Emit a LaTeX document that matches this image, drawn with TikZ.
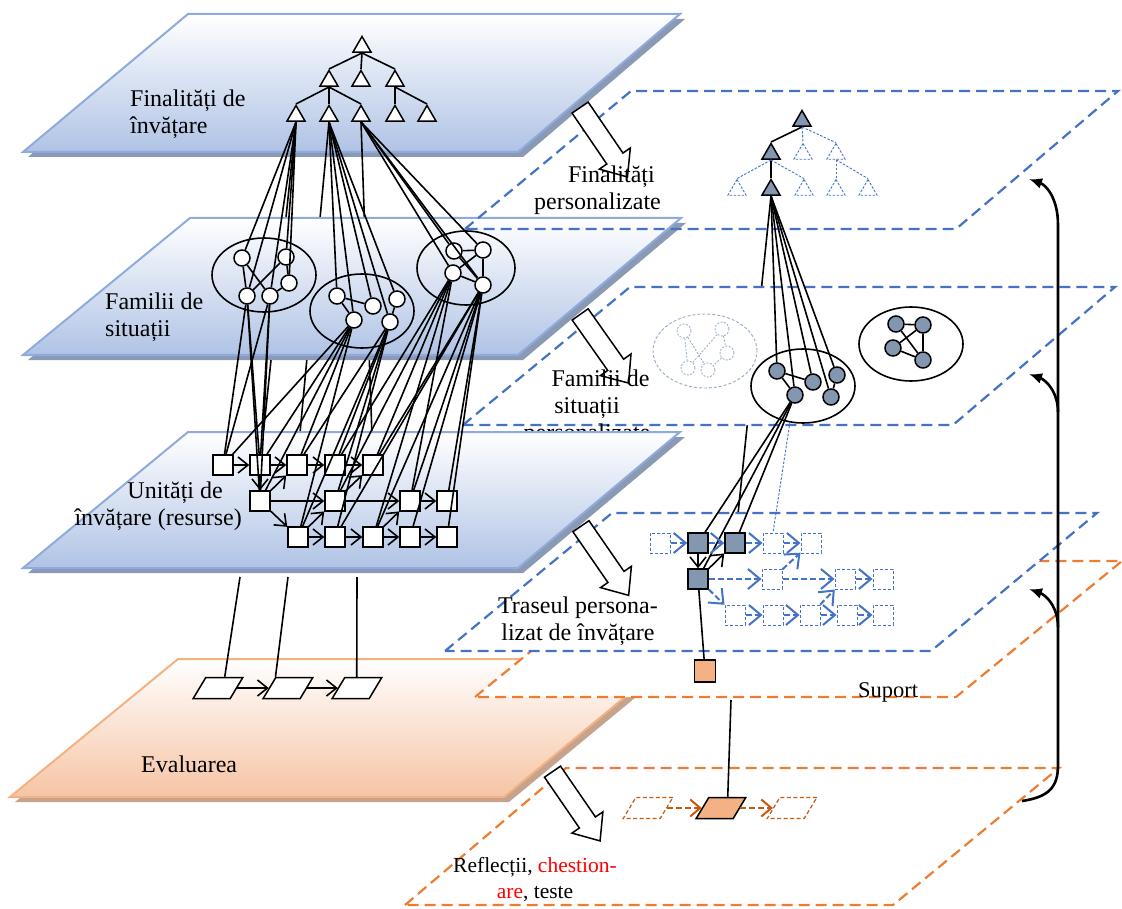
\documentclass[tikz,border=0pt]{standalone}
\usepackage{fontspec}
\setmainfont{Liberation Serif}
\usetikzlibrary{shapes.geometric,shapes.arrows,arrows.meta,calc}

\definecolor{planeEdge}{RGB}{143,170,220}
\definecolor{planeFill}{RGB}{176,195,229}
\definecolor{planeShadow}{RGB}{138,154,180}
\definecolor{evalEdge}{RGB}{244,177,131}
\definecolor{evalFill}{RGB}{246,196,164}
\definecolor{evalShadow}{RGB}{197,163,140}
\definecolor{dashBlue}{RGB}{68,114,196}
\definecolor{dashOrange}{RGB}{237,125,49}
\definecolor{darkOrange}{RGB}{197,90,17}
\definecolor{nodeGray}{RGB}{132,151,176}
\definecolor{ghostLine}{RGB}{150,170,200}
\definecolor{salmon}{RGB}{244,177,131}

\pgfdeclarelayer{planesback}
\pgfdeclarelayer{hiddenlinks}
\pgfdeclarelayer{planesfront}
\pgfsetlayers{planesback,hiddenlinks,planesfront,main}

\tikzset{
  lbl/.style={font=\fontsize{24}{27}\selectfont, inner sep=0pt},
  smalllbl/.style={font=\fontsize{21.5}{26}\selectfont, inner sep=0pt},
  tri/.style={regular polygon, regular polygon sides=3, draw, fill=white,
              line width=1.5pt, minimum size=21pt, inner sep=0pt},
  gtri/.style={tri, fill=nodeGray},
  dtri/.style={regular polygon, regular polygon sides=3, draw=dashBlue,
               dash pattern=on 2.5pt off 1.5pt, line width=0.9pt,
               minimum size=21pt, inner sep=0pt},
  dot/.style={circle, draw, fill=white, line width=1.5pt, minimum size=16pt, inner sep=0pt},
  gdot/.style={dot, fill=nodeGray},
  ghostdot/.style={circle, draw=ghostLine, dash pattern=on 2pt off 1.5pt,
                   line width=0.8pt, minimum size=14pt, inner sep=0pt},
  grp/.style={ellipse, draw, line width=1.6pt, minimum width=104pt,
              minimum height=74pt, inner sep=0pt},
  ghostgrp/.style={ellipse, draw=ghostLine, dash pattern=on 3pt off 2pt,
                   line width=0.9pt, minimum width=104pt, minimum height=74pt, inner sep=0pt},
  box/.style={rectangle, draw, fill=white, line width=1.5pt, minimum size=20pt, inner sep=0pt},
  gbox/.style={box, fill=nodeGray},
  dbox/.style={rectangle, draw=dashBlue, dash pattern=on 3pt off 2pt,
               line width=1pt, minimum size=20pt, inner sep=0pt},
  para/.style={rectangle, draw, fill=white, line width=1.5pt, minimum width=37pt,
               minimum height=21pt, inner sep=0pt, xslant=0.6},
  opara/.style={para, fill=salmon},
  dpara/.style={rectangle, draw=darkOrange, dash pattern=on 4pt off 2.5pt,
                line width=1.2pt, minimum width=37pt, minimum height=21pt,
                inner sep=0pt, xslant=0.6},
  link/.style={line width=1.6pt},
  flow/.style={line width=1.6pt, -{Straight Barb[length=10pt,width=16pt]}},
  bflow/.style={draw=dashBlue, line width=2pt, dash pattern=on 6pt off 3pt,
                -{Straight Barb[length=12pt,width=20pt]}},
  oflow/.style={draw=darkOrange, line width=2pt, dash pattern=on 6pt off 3pt,
                -{Straight Barb[length=10pt,width=17pt]}},
  treedash/.style={draw=dashBlue, dash pattern=on 2.5pt off 1.5pt, line width=0.9pt},
  ghostlink/.style={draw=ghostLine, dash pattern=on 2pt off 1.5pt, line width=0.8pt},
  bigarrow/.style={single arrow, draw, fill=white, line width=1.5pt,
                   minimum height=84pt, inner xsep=0pt, inner ysep=9pt,
                   single arrow head extend=9pt, single arrow tip angle=80},
  blueDash/.style={draw=dashBlue, line width=2.2pt, dash pattern=on 11pt off 6pt},
  orangeDash/.style={draw=dashOrange, line width=2.2pt, dash pattern=on 11pt off 6pt},
  backflow/.style={line width=2.6pt, -{Latex[length=13pt,width=11pt]}},
  blueplane/.style={top color=white, bottom color=planeFill, draw=planeEdge, line width=2pt},
  orangeplane/.style={top color=white, bottom color=evalFill, draw=evalEdge, line width=2pt},
}

\begin{document}
\begin{tikzpicture}[x=1pt,y=-1pt]
\useasboundingbox (0,0) rectangle (1122,909);

% ---------------- planes ----------------
\begin{pgfonlayer}{planesback}
  % learning goals
  \fill[planeShadow, shift={(5,5)}] (23,152) -- (188,14) -- (680,14) -- (518,152) -- cycle;
  \shade[blueplane] (23,152) -- (188,14) -- (680,14) -- (518,152) -- cycle;
\end{pgfonlayer}

\begin{pgfonlayer}{planesfront}
  % families of situations
  \fill[planeShadow, shift={(5,5)}] (23,355) -- (190,218) -- (681,218) -- (518,355) -- cycle;
  \shade[blueplane] (23,355) -- (190,218) -- (681,218) -- (518,355) -- cycle;
  % personalised goals (outline only)
  \draw[blueDash] (465,229) -- (631,91) -- (1118,91) -- (956,229) -- cycle;
  % personalised families
  \filldraw[fill=white, blueDash] (463,425) -- (630,287) -- (1115,287) -- (953,425) -- cycle;
  % evaluation
  \fill[evalShadow, shift={(5,5)}] (10,797) -- (178,659) -- (671,659) -- (504,797) -- cycle;
  \shade[orangeplane] (10,797) -- (178,659) -- (671,659) -- (504,797) -- cycle;
  % reflections, questionnaires, tests
  \draw[orangeDash] (405,905) -- (566,768) -- (1059,768) -- (893,905) -- cycle;
  % support
  \filldraw[fill=white, orangeDash] (475,697) -- (641,561) -- (1122,561) -- (956,697) -- cycle;
  % personalised learning path
  \filldraw[fill=white, blueDash] (445,651) -- (612,513) -- (1097,513) -- (931,651) -- cycle;
  % projection arrows over the upper planes
  \node[bigarrow, rotate=-55.7] (ba1) at (600.5,137.5) {};
  \node[bigarrow, rotate=-54.8] (ba2) at (601,344) {};
  \node[lbl, align=center, anchor=base] (lfam2) at (587,440)
    {\hspace*{27pt}Familii de\\situații\\personalizate};
  % learning units (resources)
  \fill[planeShadow, shift={(5,5)}] (23,568) -- (188,432) -- (680,432) -- (518,568) -- cycle;
  \shade[blueplane] (23,568) -- (188,432) -- (680,432) -- (518,568) -- cycle;
\end{pgfonlayer}

\node[bigarrow, rotate=-55.4] (ba3) at (601.5,556) {};
\node[bigarrow, rotate=-55.5] (ba4) at (573,801.5) {};

% ---------------- labels ----------------
\node[lbl, align=left, anchor=base west] (lfin) at (130,134) {Finalități de\\învățare};
\node[lbl, align=left, anchor=base west] (lfam) at (105,337) {Familii de\\situații};
\node[lbl, align=right, anchor=base east] (luni) at (242,525)
  {Unități de\hspace*{19pt}\\învățare (resurse)};
\node[lbl, anchor=base west] (leva) at (141,772) {Evaluarea};
\node[lbl, align=right, anchor=base east] (lfp) at (661,210)
  {Finalități\hspace*{6pt}\\personalizate};
\node[lbl, align=center, anchor=base] (ltr) at (578,640) {Traseul persona-\\lizat de învățare};
\node[lbl, font=\fontsize{22.5}{27}\selectfont, anchor=base] (lsup) at (888,697) {Suport};
\node[smalllbl, align=center, anchor=base] (lref) at (535,898)
  {Reflecții, {\color{red}chestion-}\\{\color{red}are}, teste};

% ---------------- goal tree ----------------
\node[tri] (t0) at (362,47) {};
\node[tri] (t1) at (329,81) {};
\node[tri] (t2) at (361,81) {};
\node[tri] (t3) at (395,81) {};
\node[tri] (t4) at (296,116) {};
\node[tri] (t5) at (329,116) {};
\node[tri] (t6) at (361,116) {};
\node[tri] (t7) at (395,116) {};
\node[tri] (t8) at (427,116) {};
\foreach \c in {t1,t2,t3} \draw[link] (t0.south) -- (\c.north);
\foreach \c in {t4,t5,t6} \draw[link] (t1.south) -- (\c.north);
\foreach \c in {t7,t8} \draw[link] (t3.south) -- (\c.north);

% ---------------- families of situations ----------------
\node[grp] (E1) at (264,275) {};
\node[dot] (e1c1) at (242,258) {};
\node[dot] (e1c2) at (286,257) {};
\node[dot] (e1c3) at (289,283) {};
\node[dot] (e1c4) at (247,296) {};
\node[dot] (e1c5) at (270,296) {};
\draw[link] (e1c1) -- (e1c4);
\draw[link] (e1c1) -- (e1c5);
\draw[link] (e1c2) -- (e1c4);
\draw[link] (e1c2) -- (e1c3);
\draw[link] (e1c3) -- (e1c5);

\node[grp] (E2) at (362,311) {};
\node[dot] (e2c1) at (337,296) {};
\node[dot] (e2c2) at (373,306) {};
\node[dot] (e2c3) at (397,299) {};
\node[dot] (e2c4) at (354,320) {};
\node[dot] (e2c5) at (390,322) {};
\draw[link] (e2c1) -- (e2c4);
\draw[link] (e2c1) -- (e2c2);
\draw[link] (e2c3) -- (e2c5);

\node[grp, minimum width=98pt] (E3) at (466,268) {};
\node[dot] (e3c1) at (454,251) {};
\node[dot] (e3c2) at (483,250) {};
\node[dot] (e3c3) at (453,273) {};
\node[dot] (e3c4) at (483,285) {};
\draw[link] (e3c1) -- (e3c2);
\draw[link] (e3c2) -- (e3c4);
\draw[link] (e3c1) -- (e3c4);
\draw[link] (e3c3) -- (e3c2);
\draw[link] (e3c3) -- (e3c4);

% goals to situations
\foreach \c in {e1c1,e1c2,e1c3,e1c4,e1c5} \draw[link] (t4.south) -- (\c);
\foreach \c in {e2c1,e2c2,e2c3,e2c4,e2c5} \draw[link] (t5.south) -- (\c);
\foreach \c in {e3c1,e3c2,e3c3,e3c4} \draw[link] (t6.south) -- (\c);

% ---------------- learning units ----------------
\node[box] (s11) at (223,465) {};
\node[box] (s12) at (260,465) {};
\node[box] (s13) at (297,465) {};
\node[box] (s14) at (335,465) {};
\node[box] (s15) at (373,465) {};
\node[box] (s21) at (260,501) {};
\node[box] (s22) at (335,501) {};
\node[box] (s23) at (410,501) {};
\node[box] (s24) at (447,501) {};
\node[box] (s31) at (298,537) {};
\node[box] (s32) at (335,537) {};
\node[box] (s33) at (373,537) {};
\node[box] (s34) at (410,537) {};
\node[box] (s35) at (447,537) {};

% situations to units
\foreach \s in {s11,s12,s21} {
  \draw[link] (e1c4) -- (\s);
  \draw[link] (e1c5) -- (\s);
}
\foreach \s in {s11,s12,s13,s21,s31} \draw[link] (e2c4) -- (\s);
\foreach \s in {s13,s14,s22,s31,s32} \draw[link] (e2c5) -- (\s);
\foreach \s in {s14,s15,s22,s23,s33} \draw[link] (e3c3) -- (\s);
\foreach \s in {s15,s23,s24,s32,s33,s34,s35} \draw[link] (e3c4) -- (\s);

% goal links that pass behind the planes
\begin{pgfonlayer}{hiddenlinks}
  \draw[link] (t4.south) -- (s12);
  \draw[link] (t5.south) -- (s13);
  \draw[link] (t6.south) -- (s15);
\end{pgfonlayer}

% sequencing of units
\draw[flow] (s11) -- (s12);
\draw[flow] (s12) -- (s13);
\draw[flow] (s13) -- (s14);
\draw[flow] (s14) -- (s15);
\draw[flow] (s21) -- (s22);
\draw[flow] (s22) -- (s23);
\draw[flow] (s23) -- (s24);
\draw[flow] (s31) -- (s32);
\draw[flow] (s32) -- (s33);
\draw[flow] (s33) -- (s34);
\draw[flow] (s34) -- (s35);
\draw[flow] (s12) -- (s21);
\draw[flow] (s21) -- (s13);
\draw[flow] (s21) -- (s31);
\draw[flow] (s31) -- (s22);
\draw[flow] (s22) -- (s15);
\draw[flow] (s33) -- (s23);

% ---------------- evaluation items ----------------
\node[para] (pe1) at (218,688) {};
\node[para] (pe2) at (288,688) {};
\node[para] (pe3) at (357,688) {};
\draw[flow] (pe1) -- (pe2);
\draw[flow] (pe2) -- (pe3);
\coordinate (ev1) at (240,577);
\coordinate (ev2) at (288,577);
\coordinate (ev3) at (357,577);
\draw[link] (ev1) -- (pe1.north);
\draw[link] (ev2) -- (pe2.north west);
\draw[link] (ev3) -- ([xshift=-7pt]pe3.north);

% ---------------- personalised goals ----------------
\node[gtri] (g0) at (802,121) {};
\node[gtri] (g1) at (771,154) {};
\node[gtri] (g2) at (771,190) {};
\node[dtri] (d1) at (803,154) {};
\node[dtri] (d2) at (836,154) {};
\node[dtri] (d3) at (737,190) {};
\node[dtri] (d4) at (804,190) {};
\node[dtri] (d5) at (836,190) {};
\node[dtri] (d6) at (868,190) {};
\draw[link] (g0.south) -- (g1.north);
\draw[link] (g1.south) -- (g2.north);
\draw[treedash] (g0.south) -- (d1.north);
\draw[treedash] (g0.south) -- (d2.north);
\draw[treedash] (g1.south) -- (d3.north);
\draw[treedash] (g1.south) -- (d4.north);
\draw[treedash] (d2.south) -- (d5.north);
\draw[treedash] (d2.south) -- (d6.north);

% ---------------- personalised families ----------------
\node[ghostgrp] (ghost) at (705,351) {};
\node[ghostdot] (gc1) at (684,331) {};
\node[ghostdot] (gc2) at (722,329) {};
\node[ghostdot] (gc3) at (727,353) {};
\node[ghostdot] (gc4) at (688,368) {};
\node[ghostdot] (gc5) at (708,370) {};
\draw[ghostlink] (gc1) -- (gc4);
\draw[ghostlink] (gc1) -- (gc5);
\draw[ghostlink] (gc2) -- (gc4);
\draw[ghostlink] (gc2) -- (gc3);
\draw[ghostlink] (gc3) -- (gc5);

\node[grp] (bell) at (803,386) {};
\node[gdot] (bc1) at (777,371) {};
\node[gdot] (bc2) at (813,382) {};
\node[gdot] (bc3) at (837,375) {};
\node[gdot] (bc4) at (795,395) {};
\node[gdot] (bc5) at (831,397) {};
\draw[link] (bc1) -- (bc2);
\draw[link] (bc1) -- (bc4);
\draw[link] (bc3) -- (bc5);

\node[grp] (bell2) at (911,344) {};
\node[gdot] (bd1) at (896,324) {};
\node[gdot] (bd2) at (923,325) {};
\node[gdot] (bd3) at (893,348) {};
\node[gdot] (bd4) at (923,360) {};
\draw[link] (bd1) -- (bd2);
\draw[link] (bd2) -- (bd4);
\draw[link] (bd3) -- (bd4);
\draw[link] (bd1) -- (bd4);
\draw[link] (bd3) -- (bd2);

\foreach \c in {bc1,bc4,bc2,bc3,bc5} \draw[link] (g2.south) -- (\c);

% ---------------- personalised path ----------------
\node[dbox] (q1) at (660,543) {};
\node[gbox] (sqa) at (698,543) {};
\node[gbox] (sqb) at (735,543) {};
\node[dbox] (q4) at (773,543) {};
\node[dbox] (q5) at (811,543) {};
\node[gbox] (sqc) at (698,579) {};
\node[dbox] (q6) at (772,579) {};
\node[dbox] (q7) at (845,579) {};
\node[dbox] (q8) at (883,579) {};
\node[dbox] (q9) at (735,615) {};
\node[dbox] (q10) at (773,615) {};
\node[dbox] (q11) at (810,615) {};
\node[dbox] (q12) at (847,615) {};
\node[dbox] (q13) at (883,615) {};

\begin{pgfonlayer}{hiddenlinks}
  \draw[link] (g2.south) -- (sqb);
\end{pgfonlayer}

\foreach \s in {sqa,sqb,sqc} \draw[link] (bc4) -- (\s);
\coordinate (bellfoot) at (790,422);
\draw[treedash] (bellfoot) -- (q4.north);

\draw[bflow] (q1) -- (sqa);
\draw[bflow] (sqa) -- (sqb);
\draw[bflow] (sqb) -- (q4);
\draw[bflow] (q4) -- (q5);
\draw[bflow] (sqc) -- (q6);
\draw[bflow] (q6) -- (q7);
\draw[bflow] (q7) -- (q8);
\draw[bflow] (q9) -- (q10);
\draw[bflow] (q10) -- (q11);
\draw[bflow] (q11) -- (q12);
\draw[bflow] (q12) -- (q13);
\draw[bflow] (sqc) -- (q9);
\draw[bflow] (q6) -- (q5);
\draw[bflow] (q11) -- (q7);
\draw[flow] (sqa) -- (sqc);
\draw[flow] (sqc) -- (sqb);

% ---------------- support and reflection ----------------
\node[box, fill=salmon, minimum width=21pt, minimum height=22pt] (os) at (705,671) {};
\draw[link] (sqc) -- (os);

\node[dpara] (opl) at (648,808) {};
\node[opara] (op) at (721,808) {};
\node[dpara] (opr) at (792,808) {};
\draw[oflow] (opl) -- (op);
\draw[oflow] (op) -- (opr);
\coordinate (suportfoot) at (731,700);
\draw[link] (suportfoot) -- (op.north);

% ---------------- feedback loop ----------------
\coordinate (lpS) at (1022,801);
\coordinate (lpT) at (1029,179);
\coordinate (brM) at (1058,412);
\coordinate (lpM) at (1029,374);
\coordinate (brL) at (1058,627);
\coordinate (lpL) at (1029,589);
\draw[backflow] (lpS) .. controls (1049,797) and (1058,787) .. (1058,765)
  -- (1058,225) .. controls (1058,198) and (1046,185) .. (lpT);
\draw[backflow] (brM) .. controls (1058,392) and (1046,380) .. (lpM);
\draw[backflow] (brL) .. controls (1058,607) and (1046,595) .. (lpL);

\end{tikzpicture}
\end{document}
